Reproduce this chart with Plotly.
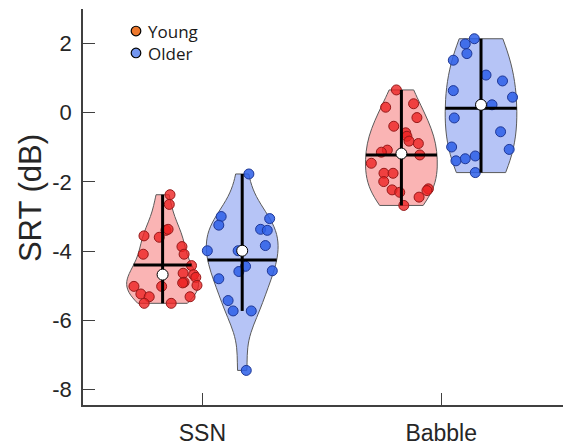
import numpy as np
import plotly.graph_objects as go

# ---------------- data ----------------
conditions = ["SSN", "Babble"]
groups = ["Young", "Older"]

young_ssn = [-2.37, -2.65, -3.40, -3.37, -3.56, -3.60, -3.87, -4.09, -4.09, -4.42, -4.64, -4.68,
             -4.90, -4.92, -4.76, -4.99, -5.02, -5.02, -5.24, -5.32, -5.51, -5.51, -5.32]
older_ssn = [-1.77, -3.00, -3.25, -3.06, -3.37, -3.40, -3.84, -3.99, -3.99, -4.44, -4.59, -4.57,
             -4.80, -5.43, -5.73, -5.73, -7.45]
young_babble = [0.66, 0.26, 0.16, -0.14, -0.39, -0.58, -0.68, -0.82, -0.89, -1.08, -1.14, -1.22,
                -1.46, -1.75, -1.75, -1.99, -2.23, -2.30, -2.20, -2.25, -2.44, -2.68]
older_babble = [2.14, 1.99, 1.71, 1.52, 1.09, 0.92, 0.64, 0.45, 0.23, -0.15, -0.55, -0.99,
                -1.06, -1.25, -1.33, -1.39, -1.73]

# horizontal scatter jitter of each point
young_ssn_jitter = [0.031, 0.028, 0.014, 0.023, -0.078, -0.014, 0.081, 0.090, -0.081, 0.121, 0.086, 0.130,
                    0.090, 0.084, 0.139, 0.144, -0.004, -0.120, -0.091, -0.056, -0.077, 0.036, 0.115]
older_ssn_jitter = [0.028, -0.088, -0.098, 0.115, 0.077, 0.105, 0.097, -0.146, -0.017, 0.014, -0.014, 0.126,
                    -0.098, -0.059, -0.038, 0.038, 0.017]
young_babble_jitter = [-0.021, 0.051, -0.066, 0.065, -0.032, 0.018, 0.023, 0.032, 0.071, -0.059, -0.084, 0.077,
                       -0.126, -0.073, -0.035, -0.074, -0.039, -0.007, 0.113, 0.107, 0.074, 0.010]
older_babble_jitter = [-0.028, -0.066, -0.059, -0.116, 0.021, 0.090, -0.116, 0.132, 0.046, -0.112, 0.082, -0.123,
                       0.118, -0.024, -0.066, -0.105, -0.024]

y_ticks = [-8, -6, -4, -2, 0, 2]

# ---------------- styling ----------------
VIOLIN_WIDTH = 0.3
GROUP_OFFSET = {"Young": -1 / 6, "Older": 1 / 6}
FILL = {"Young": "rgb(250,180,180)", "Older": "rgb(182,196,246)"}
PT_FILL = {"Young": "rgba(238,35,35,0.8)", "Older": "rgba(45,95,232,0.85)"}
PT_EDGE = {"Young": "rgb(150,25,25)", "Older": "rgb(30,55,150)"}
LEG_FILL = {"Young": "rgb(237,120,45)", "Older": "rgb(115,150,240)"}

series = {
    ("Young", "SSN"): (young_ssn, young_ssn_jitter),
    ("Older", "SSN"): (older_ssn, older_ssn_jitter),
    ("Young", "Babble"): (young_babble, young_babble_jitter),
    ("Older", "Babble"): (older_babble, older_babble_jitter),
}


def bandwidth(v):
    sig = np.median(np.abs(v - np.median(v))) / 0.6745
    return sig * (4.0 / (3.0 * len(v))) ** 0.2


def kde(v, h, t):
    t = np.atleast_1d(t)[:, None]
    return np.exp(-0.5 * ((t - v[None, :]) / h) ** 2).sum(axis=1) / (np.sqrt(2 * np.pi) * len(v) * h)


def kde_max(v, h):
    lo, hi = v.min(), v.max()
    n = int(np.ceil((hi - lo) / (h / 3)))
    ts = lo + (hi - lo) / n * np.arange(n + 1)
    return kde(v, h, ts).max()


fig = go.Figure()
stats = []

for ci, cond in enumerate(conditions):
    for g in groups:
        vals, jit = series[(g, cond)]
        v = np.asarray(vals, float)
        pos = ci + 1 + GROUP_OFFSET[g]
        h = bandwidth(v)
        fig.add_trace(go.Violin(
            x=[pos] * len(v), y=v, width=VIOLIN_WIDTH, bandwidth=h, spanmode="hard",
            scalemode="width", points=False, fillcolor=FILL[g],
            line=dict(color="rgb(90,90,90)", width=1), box_visible=False,
            meanline_visible=False, showlegend=False, hoverinfo="skip",
        ))
        q1, q3 = np.quantile(v, [0.25, 0.75], method="hazen")
        iqr = q3 - q1
        lo_w = v[v >= q1 - 1.5 * iqr].min()
        hi_w = v[v <= q3 + 1.5 * iqr].max()
        mean = v.mean()
        med = np.median(v)
        half = VIOLIN_WIDTH / 2 * kde(v, h, mean)[0] / kde_max(v, h)
        stats.append((g, pos, v, np.asarray(jit), lo_w, hi_w, mean, med, half))

for g, pos, v, jit, lo_w, hi_w, mean, med, half in stats:
    fig.add_trace(go.Scatter(
        x=pos + jit, y=v, mode="markers", showlegend=False, hoverinfo="skip",
        marker=dict(size=10, color=PT_FILL[g], line=dict(color=PT_EDGE[g], width=1)),
    ))

for g, pos, v, jit, lo_w, hi_w, mean, med, half in stats:
    fig.add_trace(go.Scatter(
        x=[pos, pos], y=[lo_w, hi_w], mode="lines", showlegend=False, hoverinfo="skip",
        line=dict(color="black", width=3),
    ))
    fig.add_trace(go.Scatter(
        x=[pos - half, pos + half], y=[mean, mean], mode="lines", showlegend=False,
        hoverinfo="skip", line=dict(color="black", width=3),
    ))

for g, pos, v, jit, lo_w, hi_w, mean, med, half in stats:
    fig.add_trace(go.Scatter(
        x=[pos], y=[med], mode="markers", showlegend=False, hoverinfo="skip",
        marker=dict(size=11, color="white", line=dict(color="black", width=1)),
    ))

# ---------------- layout ----------------
W, H = 563, 446
ML, MR, MT, MB = 83, 0, 9, 38
PW, PH = W - ML - MR, H - MT - MB


def px(xp):
    return (xp - ML) / PW


def py(yp):
    return (H - MB - yp) / PH


axis_common = dict(
    showline=True, linecolor="#404040", linewidth=1.5, ticks="inside", ticklen=12,
    tickwidth=1.3, tickcolor="#404040", showgrid=False, zeroline=False,
)

fig.update_layout(
    width=W, height=H, margin=dict(l=ML, r=MR, t=MT, b=MB),
    paper_bgcolor="white", plot_bgcolor="white", violinmode="overlay",
    font=dict(family="Liberation Sans, Arial, sans-serif", color="#262626"),
    xaxis=dict(range=[0.5, 2.51], tickvals=[1, 2], ticktext=conditions,
               tickfont=dict(size=23, color="#262626"), ticklabelstandoff=7, **axis_common),
    yaxis=dict(range=[-8.45, 3], tickvals=y_ticks, ticktext=[str(t) for t in y_ticks],
               tickfont=dict(size=22, color="#262626"), ticklabelstandoff=5, **axis_common),
)

LEG_FONT = 17
LEG_LINE = 1.3 * LEG_FONT
LEG_TOP_CENTER = 31.2

annotations = [dict(
    text="SRT (dB)", xref="paper", yref="paper", x=px(30), y=py(199.5), showarrow=False,
    textangle=-90, xanchor="center", yanchor="middle",
    font=dict(size=31, color="#262626", family="Liberation Sans, Arial, sans-serif"),
)]
annotations.append(dict(
    text="<br>".join(groups), xref="paper", yref="paper", x=px(146),
    y=py(LEG_TOP_CENTER + LEG_LINE / 2), showarrow=False, xanchor="left", yanchor="middle",
    align="left", font=dict(size=LEG_FONT, color="#1a1a1a", family="Open Sans, Noto Sans, sans-serif"),
))
shapes = []
for i, g in enumerate(groups):
    shapes.append(dict(
        type="circle", xref="paper", yref="paper", xsizemode="pixel", ysizemode="pixel",
        xanchor=px(136), yanchor=py(LEG_TOP_CENTER + i * LEG_LINE), x0=-4.8, x1=4.8, y0=-4.8, y1=4.8,
        fillcolor=LEG_FILL[g], line=dict(color="black", width=1.2),
    ))

fig.update_layout(annotations=annotations, shapes=shapes)
fig.write_html("out.html")
